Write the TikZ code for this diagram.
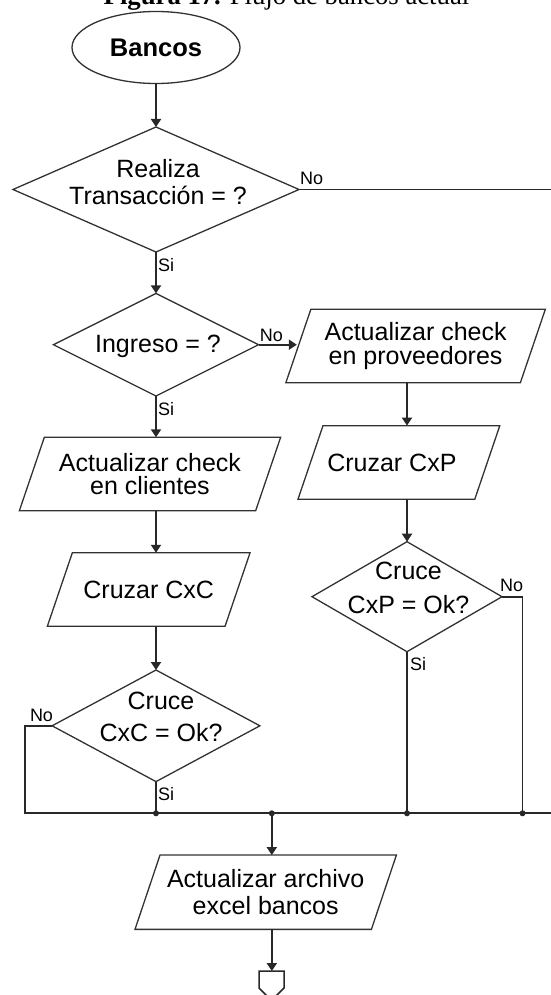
\documentclass[tikz,border=0pt]{standalone}
\usepackage{fontspec}
\setmainfont{Liberation Sans}
\newfontfamily\captionserif{Liberation Serif}
\usetikzlibrary{shapes.geometric,arrows.meta,calc}

\definecolor{ink}{RGB}{40,40,40}
\definecolor{edge}{RGB}{50,50,50}

% slanted outline of an input/output box, drawn on the node's rectangle
\newcommand\ioframe[1]{%
  \draw[shapeline] ($(#1.north west)+(25,0)$) -- (#1.north east)
    -- ($(#1.south east)+(-25,0)$) -- (#1.south west) -- cycle;}

\begin{document}
\begin{tikzpicture}[x=1pt,y=-1pt,
  shapeline/.style={draw=edge, line width=1.3pt},
  conn/.style={draw=ink, line width=1.9pt},
  arr/.style={conn, -{Triangle[width=10pt,length=8pt]}},
  terminal/.style={ellipse, shapeline, inner sep=0pt, outer sep=0pt,
    minimum width=168pt, minimum height=72pt,
    font=\fontsize{25.5}{27}\selectfont\bfseries},
  decision/.style={diamond, shapeline, inner sep=0pt, outer sep=0pt},
  dtext/.style={align=center, inner sep=0pt},
  iobox/.style={rectangle, inner sep=0pt, outer sep=0pt,
    minimum height=73.5pt, align=center},
  tag/.style={inner sep=0pt, anchor=base west, font=\fontsize{18}{18}\selectfont}
]
\useasboundingbox (0,0) rectangle (550,995);

% caption
\node[anchor=base, inner sep=0pt, font=\captionserif\fontsize{26.7}{28}\selectfont]
  (title) at (286.5,5) {\textbf{Figura 17.} Flujo de bancos actual};

% start
\node[terminal] (bancos) at (156,47.5) {Bancos};

% decisions
\node[decision, minimum width=286pt, minimum height=125pt,
  label={[dtext, xshift=2pt, yshift=7.3pt, font=\fontsize{25}{27.7}\selectfont]center:Realiza\\Transacción = ?}]
  (d1) at (156,189.5) {};
\node[decision, minimum width=205.2pt, minimum height=102.6pt,
  label={[dtext, xshift=2pt, yshift=-1.9pt, font=\fontsize{25}{27}\selectfont]center:Ingreso = ?}]
  (d2) at (156,344.7) {};
\node[decision, minimum width=207.8pt, minimum height=111.6pt,
  label={[dtext, xshift=5pt, yshift=8.7pt, font=\fontsize{25}{31.7}\selectfont]center:Cruce\\CxC = Ok?}]
  (d3) at (156,725.8) {};
\node[decision, minimum width=190pt, minimum height=110pt,
  label={[dtext, xshift=1.5pt, yshift=8.8pt, font=\fontsize{25}{33.3}\selectfont]center:Cruce\\CxP = Ok?}]
  (d4) at (407,596.7) {};

% input/output boxes
\node[iobox, minimum width=259.5pt, font=\fontsize{25}{24}\selectfont]
  (prov) at (415.6,346) {Actualizar check\\en proveedores};
\node[iobox, minimum width=201.8pt, font=\fontsize{25}{27}\selectfont]
  (cxp) at (398.9,462.4) {\kern-14pt Cruzar CxP};
\node[iobox, minimum width=261.3pt, font=\fontsize{25}{23.3}\selectfont]
  (cli) at (150,474) {Actualizar check\\en clientes};
\node[iobox, minimum width=202.7pt, font=\fontsize{25}{27}\selectfont]
  (cxc) at (148.7,589.5) {Cruzar CxC};
\node[iobox, minimum width=261.4pt, minimum height=74.3pt, font=\fontsize{25}{26.7}\selectfont]
  (fin) at (265.7,892.2) {Actualizar archivo\\excel bancos};
\ioframe{prov}
\ioframe{cxp}
\ioframe{cli}
\ioframe{cxc}
\ioframe{fin}

% off-page connector
\node[rectangle, inner sep=0pt, outer sep=0pt, minimum width=25pt, minimum height=17pt]
  (endc) at (271.5,979.5) {};
\draw[draw=ink, line width=1.5pt] (endc.north west) -- (endc.north east) -- (endc.south east)
  -- ($(endc.south)+(0,12.5)$) -- (endc.south west) -- cycle;

% branch labels
\node[tag] (no1) at (300,185) {No};
\node[tag] (si1) at (158,271.7) {Si};
\node[tag] (no2) at (259.6,341.7) {No};
\node[tag] (si2) at (158,415) {Si};
\node[tag] (no4) at (500,591.7) {No};
\node[tag] (si4) at (410,670) {Si};
\node[tag] (no3) at (29.8,721.7) {No};
\node[tag] (si3) at (158,800) {Si};

% collecting line
\coordinate (busL) at (25.3,813.3);
\coordinate (busR) at (565,813.3);
\coordinate (rrail) at (522.5,813.3);
\coordinate (jc) at (271.8,813.3);

% main flow
\draw[arr] (bancos.south) -- (d1.north);
\draw[arr] (d1.south) -- (d2.north);
\draw[arr] (d2.east) -- ($(d2.east -| prov.south west)+(11,0)$);
\draw[arr] (d2.south) -- (d2.south |- cli.north);
\draw[arr] (cli.south -| d2.south) -- (cxc.north -| d2.south);
\draw[arr] (cxc.south -| d2.south) -- (d3.north);
\draw[arr] (prov.south -| d4.north) -- (cxp.north -| d4.north);
\draw[arr] (cxp.south -| d4.north) -- (d4.north);

% returns to the collecting line
\draw[conn] (d3.west) -- (d3.west -| busL) -- (busL) -- (busR) -- (busR |- d1.east) -- (d1.east);
\draw[conn] (d3.south) -- (d3.south |- busL);
\draw[conn] (d4.south) -- (d4.south |- busL);
\draw[conn] (d4.east) -- (d4.east -| rrail) -- (rrail);
\draw[arr] (jc) -- (jc |- fin.north);
\draw[arr] (fin.south -| jc) -- (endc.north -| jc);

% junction dots
\fill[ink] (d3.south |- busL) circle (3pt);
\fill[ink] (jc) circle (3pt);
\fill[ink] (d4.south |- busL) circle (3pt);
\fill[ink] (rrail) circle (3pt);
\end{tikzpicture}
\end{document}
